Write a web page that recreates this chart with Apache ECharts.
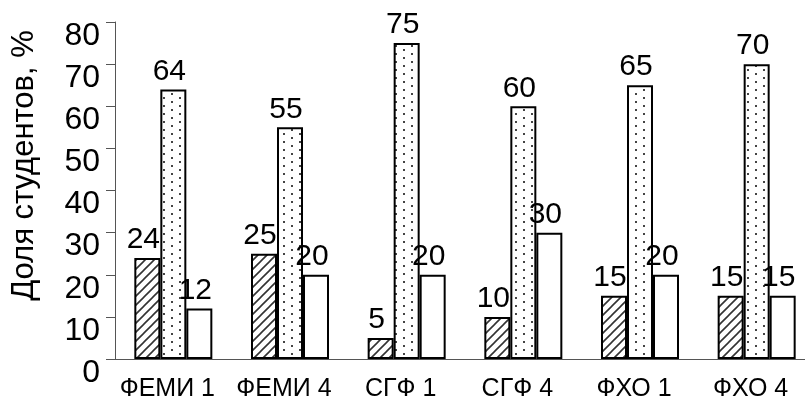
<!DOCTYPE html>
<html>
<head>
<meta charset="utf-8">
<script src="https://cdn.jsdelivr.net/npm/echarts@6/dist/echarts.min.js"></script>
<style>
  html, body { margin: 0; padding: 0; background: #fff; overflow: hidden; }
  #chart { width: 830px; height: 399px; }
</style>
</head>
<body>
<div id="chart"></div>
<script>
// Groups of students (faculty + course)
const categories = ['ФЕМИ 1', 'ФЕМИ 4', 'СГФ 1', 'СГФ 4', 'ФХО 1', 'ФХО 4'];
// Shares of students, % (three answer groups)
const hatchedValues = [24, 25, 5, 10, 15, 15];
const dottedValues  = [64, 55, 75, 60, 65, 70];
const plainValues   = [12, 20, 20, 30, 20, 15];
const yTicks = [0, 10, 20, 30, 40, 50, 60, 70, 80];
const yTitle = 'Доля студентов, %';

// Diagonal hatch fill
function makeHatch() {
  const c = document.createElement('canvas');
  c.width = 9; c.height = 9;
  const g = c.getContext('2d');
  g.fillStyle = '#fff';
  g.fillRect(0, 0, 9, 9);
  g.strokeStyle = '#333';
  g.lineWidth = 1.6;
  g.beginPath();
  g.moveTo(-1, 10); g.lineTo(10, -1);
  g.moveTo(-1, 1); g.lineTo(1, -1);
  g.moveTo(8, 10); g.lineTo(10, 8);
  g.stroke();
  return c;
}
// Sparse dot fill
function makeDots() {
  const c = document.createElement('canvas');
  c.width = 16; c.height = 8;
  const g = c.getContext('2d');
  g.fillStyle = '#fff';
  g.fillRect(0, 0, 16, 8);
  g.fillStyle = '#444';
  g.fillRect(3, 1, 2, 2);
  g.fillRect(11, 5, 2, 2);
  return c;
}

const font = '"Liberation Sans", Arial, sans-serif';
const barW = 26;

function barSeries(values, fill) {
  return {
    type: 'bar',
    data: values,
    barWidth: barW,
    barGap: '0%',
    itemStyle: { color: fill, borderColor: '#000', borderWidth: 2 },
    label: {
      show: true,
      position: 'top',
      distance: 3,
      offset: [-4, 0],
      color: '#000',
      fontFamily: font,
      fontSize: 30
    },
    emphasis: { disabled: true },
    animation: false
  };
}

const chart = echarts.init(document.getElementById('chart'), null, { renderer: 'canvas' });
chart.setOption({
  backgroundColor: '#fff',
  animation: false,
  grid: {
    left: 115, top: 22, width: 700, height: 337,
    containLabel: false, outerBoundsMode: 'none'
  },
  xAxis: {
    type: 'category',
    data: categories,
    axisLine: { lineStyle: { color: '#555', width: 1 } },
    axisTick: { show: false },
    axisLabel: {
      color: '#000', fontFamily: font, fontSize: 25, margin: 18, interval: 0,
      padding: [0, 12, 0, 0]
    }
  },
  yAxis: {
    type: 'value',
    min: yTicks[0],
    max: yTicks[yTicks.length - 1],
    interval: 10,
    name: yTitle,
    nameLocation: 'middle',
    nameGap: 75,
    nameTextStyle: { color: '#000', fontFamily: font, fontSize: 31, padding: [0, 0, 0, 50] },
    axisLine: { show: true, lineStyle: { color: '#555', width: 1 } },
    axisTick: { show: true, length: 9, lineStyle: { color: '#555' } },
    splitLine: { show: false },
    axisLabel: {
      color: '#000', fontFamily: font, fontSize: 32, margin: 15,
      verticalAlign: 'top', lineHeight: 28
    }
  },
  series: [
    barSeries(hatchedValues, { image: makeHatch(), repeat: 'repeat' }),
    barSeries(dottedValues, { image: makeDots(), repeat: 'repeat' }),
    barSeries(plainValues, '#fff')
  ]
});
</script>
</body>
</html>
